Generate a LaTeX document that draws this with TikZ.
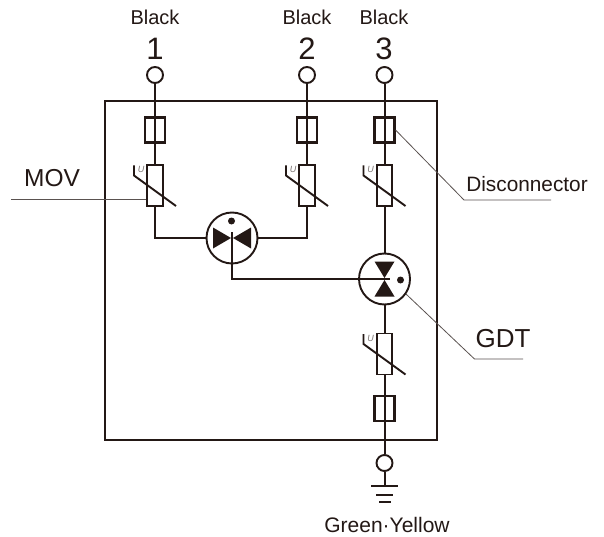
\documentclass[tikz,border=0pt]{standalone}
\usepackage{fontspec}
\setmainfont{Liberation Sans}
\definecolor{ink}{HTML}{231815}
\tikzset{
  wire/.style={draw=ink,line width=2pt},
  leader/.style={draw=ink!75,line width=0.8pt},
  term/.style={circle,draw=ink,line width=1.9pt,minimum size=16pt,inner sep=0pt,fill=white},
  fusebox/.style={rectangle,draw=ink,line width=2.1pt,minimum width=20pt,minimum height=25pt,inner sep=0pt},
  movbox/.style={rectangle,draw=ink,line width=1.9pt,minimum width=15.5pt,minimum height=41pt,inner sep=0pt,fill=white},
  gdtc/.style={circle,draw=ink,line width=1.9pt,minimum size=51pt,inner sep=0pt},
  lab/.style={text=ink,font=\fontsize{20}{20}\selectfont,inner sep=0pt},
  num/.style={text=ink,font=\fontsize{31}{31}\selectfont,inner sep=0pt},
  big/.style={text=ink,font=\fontsize{24.5}{24.5}\selectfont,inner sep=0pt},
  tiny/.style={text=ink!60,font=\fontsize{9}{9}\selectfont\itshape,inner sep=0pt},
  tri/.style={fill=ink,draw=none},
  dotm/.style={circle,fill=ink,draw=none,minimum size=7pt,inner sep=0pt},
}
\newcommand{\varistor}[3]{%
  \node[movbox] (#3) at (#1,#2) {};
  \draw[draw=ink,line width=1.9pt] ([shift={(-21,-20)}]#1,#2) -- ([shift={(-21,-10)}]#1,#2) -- ([shift={(21,20.5)}]#1,#2);
  \node[tiny] (#3u) at ([shift={(-14,-16)}]#1,#2) {U};
}
\begin{document}
\begin{tikzpicture}[x=1pt,y=-1pt]
\useasboundingbox (0,0) rectangle (604,537);
\fill[white] (0,0) rectangle (604,537);
% enclosure
\node[draw=ink,line width=2pt,minimum width=332pt,minimum height=339pt,inner sep=0pt,anchor=north west] (enc) at (104,100) {};
% terminals
\node[term] (t1) at (155,75) {};
\node[term] (t2) at (307,75) {};
\node[term] (t3) at (384.5,75) {};
\node[term] (t4) at (384.5,463) {};
% fuses
\node[fusebox] (f1) at (155,130) {};
\node[fusebox] (f2) at (307,130) {};
\node[fusebox] (f3) at (384.5,130) {};
\node[fusebox] (f4) at (384.5,408.5) {};
% varistors
\varistor{155}{185.5}{m1}
\varistor{307}{185.5}{m2}
\varistor{384.5}{185.5}{m3}
\varistor{384.5}{354}{m4}
% GDTs
\node[gdtc] (g1) at (232,238) {};
\node[gdtc] (g2) at (384.5,279) {};
\coordinate (j1) at (232,279);
\coordinate (e1) at (390,279);
\coordinate (c1) at (232,232);
% internal glyphs
\fill[tri] (213,227.5) -- (231,238) -- (213,248.5) -- cycle;
\fill[tri] (251,227.5) -- (233,238) -- (251,248.5) -- cycle;
\fill[tri] (374.5,261.5) -- (384.5,278) -- (394.5,261.5) -- cycle;
\fill[tri] (374.5,296.5) -- (384.5,280) -- (394.5,296.5) -- cycle;
\node[dotm] (d1) at (231.5,221) {};
\node[dotm] (d2) at (400.5,280) {};
% wires
\draw[wire] (t1) -- (f1.north);
\draw[wire] (f1.north) -- (f1.south) -- (m1.north);
\draw[wire] (t2) -- (f2.north);
\draw[wire] (f2.north) -- (f2.south) -- (m2.north);
\draw[wire] (t3) -- (f3.north);
\draw[wire] (f3.north) -- (f3.south) -- (m3.north);
\draw[wire] (m3.south) -- (g2.north);
\draw[wire] (g2.south) -- (m4.north);
\draw[wire] (m4.south) -- (f4.north) -- (f4.south) -- (t4);
\draw[wire] (m1.south) |- (g1.west);
\draw[wire] (m2.south) |- (g1.east);
\draw[wire] (c1) -- (j1) -- (e1);
% earth
\coordinate (ge) at (384.5,486);
\draw[wire] (t4) -- (ge);
\draw[wire] (371,486) -- (398,486);
\draw[wire] (376,495) -- (393,495);
\draw[wire] (379,502) -- (391,502);
% labels
\node[lab] (b1) at (155,17) {Black};
\node[lab] (b2) at (307,17) {Black};
\node[lab] (b3) at (384,17) {Black};
\node[num] (n1) at (155,49) {1};
\node[num] (n2) at (307,49) {2};
\node[num] (n3) at (384,49) {3};
\node[big] (mov) at (52,178) {MOV};
\node[lab,font=\fontsize{20.8}{20.8}\selectfont] (dis) at (527,184) {Disconnector};
\node[big,font=\fontsize{26}{26}\selectfont] (gdt) at (503,339) {GDT};
\node[lab,font=\fontsize{21}{21}\selectfont] (gy) at (387,525) {Green·Yellow};
% leaders
\coordinate (l1) at (11,199);
\draw[leader] (l1) -- (m1.west |- l1);
\coordinate (l2) at (464,200);
\coordinate (l2e) at (551,200);
\draw[leader] (f3.east) -- (l2) -- (l2e);
\coordinate (l3) at (474.5,359);
\coordinate (l3e) at (523,359);
\draw[leader] (g2.-35) -- (l3) -- (l3e);
\end{tikzpicture}
\end{document}
